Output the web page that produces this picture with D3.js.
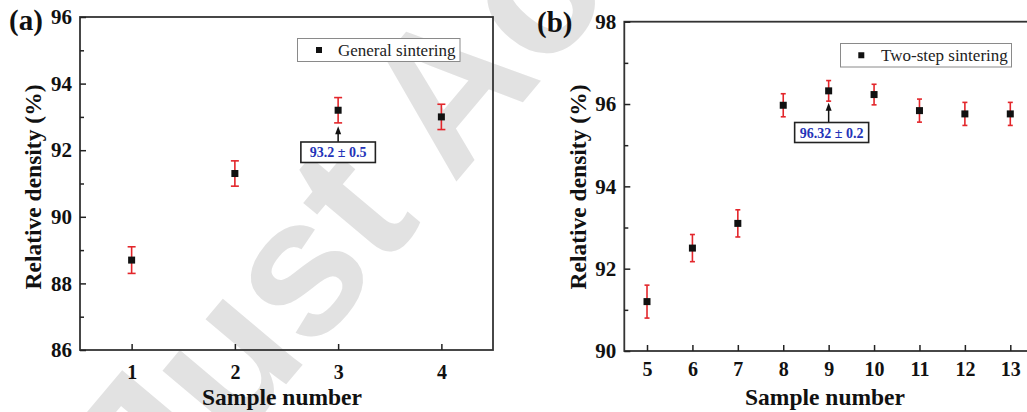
<!DOCTYPE html>
<html><head><meta charset="utf-8">
<script src="https://cdn.jsdelivr.net/npm/d3@7/dist/d3.min.js"></script>
<style>html,body{margin:0;padding:0;background:#fff;}svg{display:block;}</style>
</head><body>
<svg id="c" width="1027" height="412"></svg>
<script>
// ---- data ----
const samplesA = [1, 2, 3, 4];
const densityA = [88.7, 91.3, 93.2, 93.0];
const errA = [0.4, 0.38, 0.38, 0.38];
const yTicksA = [86, 88, 90, 92, 94, 96];
const minorA = [87, 89, 91, 93, 95];

const samplesB = [5, 6, 7, 8, 9, 10, 11, 12, 13];
const densityB = [91.2, 92.5, 93.1, 95.97, 96.32, 96.23, 95.84, 95.76, 95.76];
const errB = [0.4, 0.33, 0.33, 0.28, 0.25, 0.25, 0.28, 0.28, 0.28];
const yTicksB = [90, 92, 94, 96, 98];
const minorB = [91, 93, 95, 97];

const legendA = "General sintering";
const legendB = "Two-step sintering";
const noteA = "93.2 ± 0.5";
const noteB = "96.32 ± 0.2";
const watermark = "Just Ac";

const svg = d3.select("#c");
const SERIF = "'Liberation Serif','Times New Roman',serif";
const RED = "#e3262b";
const AX = "#222";

// watermark
svg.append("text")
  .attr("transform", "translate(164,530) rotate(-50)")
  .attr("font-family", "'Liberation Sans',Arial,sans-serif")
  .attr("font-weight", "bold")
  .attr("font-size", 196)
  .attr("fill", "#e2e2e2")
  .text(watermark);

function panel(cfg) {
  const g = svg.append("g");
  const x = d3.scaleLinear().domain(cfg.xdom).range([cfg.left, cfg.right]);
  const y = d3.scaleLinear().domain(cfg.ydom).range([cfg.bottom, cfg.top]);

  // frame
  g.append("rect").attr("x", cfg.left).attr("y", cfg.top)
    .attr("width", cfg.right - cfg.left).attr("height", cfg.bottom - cfg.top)
    .attr("fill", "none").attr("stroke", "#333").attr("stroke-width", 1.8);

  // x axis
  const xa = g.append("g").attr("transform", `translate(0,${cfg.bottom})`)
    .call(d3.axisBottom(x).tickValues(cfg.samples).tickFormat(d3.format("d"))
      .tickSizeInner(-6).tickSizeOuter(0).tickPadding(cfg.xPad));
  xa.select(".domain").remove();
  xa.selectAll("line").attr("stroke", AX).attr("stroke-width", 1.5);
  xa.selectAll("text").attr("font-family", SERIF).attr("font-weight", "bold")
    .attr("font-size", 20).attr("fill", "#111").attr("dy", "0.71em");

  // y axis
  const ya = g.append("g").attr("transform", `translate(${cfg.left},0)`)
    .call(d3.axisLeft(y).tickValues(cfg.yticks).tickFormat(d3.format("d"))
      .tickSizeInner(-6).tickSizeOuter(0).tickPadding(8));
  ya.select(".domain").remove();
  ya.selectAll("line").attr("stroke", AX).attr("stroke-width", 1.5);
  ya.selectAll("text").attr("font-family", SERIF).attr("font-weight", "bold")
    .attr("font-size", 21).attr("fill", "#111");
  // minor ticks
  const ym = g.append("g").attr("transform", `translate(${cfg.left},0)`)
    .call(d3.axisLeft(y).tickValues(cfg.minor).tickFormat("").tickSizeInner(-4).tickSizeOuter(0));
  ym.select(".domain").remove();
  ym.selectAll("line").attr("stroke", AX).attr("stroke-width", 1.5);

  // axis titles
  g.append("text").attr("x", cfg.xTitleX).attr("y", 405).attr("text-anchor", "middle")
    .attr("font-family", SERIF).attr("font-weight", "bold").attr("font-size", 23.5)
    .attr("fill", "#111").text("Sample number");
  g.append("text").attr("transform", `translate(${cfg.yTitleX},187) rotate(-90)`)
    .attr("text-anchor", "middle")
    .attr("font-family", SERIF).attr("font-weight", "bold").attr("font-size", 23.5)
    .attr("fill", "#111").text("Relative density (%)");
  // panel label
  g.append("text").attr("x", cfg.labX).attr("y", cfg.labY)
    .attr("font-family", SERIF).attr("font-weight", "bold").attr("font-size", 29)
    .attr("fill", "#111").text(cfg.lab);

  // error bars
  const data = cfg.samples.map((s, i) => ({s, v: cfg.vals[i], e: cfg.errs[i]}));
  const eb = g.append("g").attr("stroke", RED).attr("stroke-width", 1.6);
  data.forEach(d => {
    const cx = x(d.s), y1 = y(d.v + d.e), y2 = y(d.v - d.e);
    eb.append("line").attr("x1", cx).attr("x2", cx).attr("y1", y1).attr("y2", y2);
    eb.append("line").attr("x1", cx - cfg.cap).attr("x2", cx + cfg.cap).attr("y1", y1).attr("y2", y1);
    eb.append("line").attr("x1", cx - cfg.cap).attr("x2", cx + cfg.cap).attr("y1", y2).attr("y2", y2);
  });
  // markers
  g.selectAll("rect.m").data(data).enter().append("rect").attr("class", "m")
    .attr("x", d => x(d.s) - 3.5).attr("y", d => y(d.v) - 3.5)
    .attr("width", 7).attr("height", 7).attr("fill", "#111");

  // legend
  const L = cfg.legend;
  g.append("rect").attr("x", L.x).attr("y", L.y).attr("width", L.w).attr("height", L.h)
    .attr("fill", "#fff").attr("stroke", "#8a8a8a").attr("stroke-width", 1);
  g.append("rect").attr("x", L.mx - 3).attr("y", L.y + L.h / 2 - 3).attr("width", 6).attr("height", 6)
    .attr("fill", "#111");
  g.append("text").attr("x", L.tx).attr("y", L.y + L.h / 2 + 5.5)
    .attr("font-family", SERIF).attr("font-size", 17).attr("fill", "#222").text(L.text);

  // annotation
  const N = cfg.note;
  const ax = x(N.sample);
  const tipY = y(N.tipVal);
  g.append("line").attr("x1", ax).attr("x2", ax).attr("y1", N.boxY).attr("y2", tipY + 6)
    .attr("stroke", "#111").attr("stroke-width", 1.5);
  g.append("path").attr("d", `M${ax},${tipY} L${ax - 3},${tipY + 8} L${ax + 3},${tipY + 8} Z`).attr("fill", "#111");
  g.append("rect").attr("x", ax - N.w / 2 + N.dx).attr("y", N.boxY).attr("width", N.w).attr("height", N.h)
    .attr("fill", "#fff").attr("stroke", "#222").attr("stroke-width", 1.6);
  g.append("text").attr("x", ax + N.dx).attr("y", N.boxY + N.h / 2 + 5)
    .attr("text-anchor", "middle").attr("font-family", SERIF).attr("font-weight", "bold")
    .attr("font-size", 14).attr("fill", "#2433b8").text(N.text);
}

panel({
  xdom: [0.5, 4.5], ydom: [86, 96], left: 80, right: 493, top: 17, bottom: 350,
  samples: samplesA, vals: densityA, errs: errA, yticks: yTicksA, minor: minorA,
  cap: 4, xPad: 14.8, xTitleX: 282, yTitleX: 41, lab: "(a)", labX: 9, labY: 30,
  legend: {x: 297.5, y: 38.5, w: 162.5, h: 23, mx: 319, tx: 338, text: legendA},
  note: {sample: 3, tipVal: 92.72, boxY: 142, w: 74.5, h: 20.5, dx: 0, text: noteA}
});
panel({
  xdom: [4.5, 13.5], ydom: [90, 98], left: 624.3, right: 1033, top: 21.7, bottom: 351,
  samples: samplesB, vals: densityB, errs: errB, yticks: yTicksB, minor: minorB,
  cap: 2.5, xPad: 10.8, xTitleX: 825, yTitleX: 586, lab: "(b)", labX: 537, labY: 32,
  legend: {x: 840.5, y: 43.5, w: 171, h: 23.5, mx: 861.3, tx: 881, text: legendB},
  note: {sample: 9, tipVal: 96.03, boxY: 122.5, w: 74, h: 20, dx: 3, text: noteB}
});
</script>
</body></html>
